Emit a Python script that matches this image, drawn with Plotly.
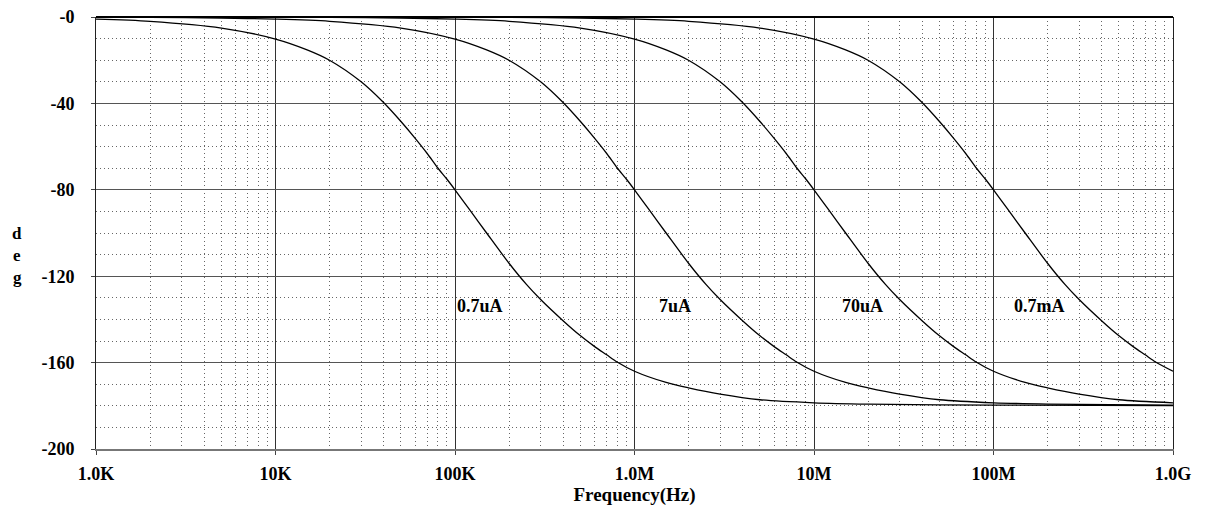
import plotly.graph_objects as go
import numpy as np

# ---- data (frequency in Hz, phase in degrees) ----
freq_07uA = [1e3, 2e3, 5e3, 1e4, 1.5e4, 2e4, 3e4, 4e4, 5e4, 6e4, 7e4, 8e4, 9e4,
             1e5, 1.2e5, 1.5e5, 2e5, 2.5e5, 3e5, 4e5, 5e5, 6e5, 7e5, 8e5,
             1e6, 1.5e6, 2e6, 3e6, 5e6, 1e7, 2e7, 1e8, 1e9]
phase_07uA = [-1.0, -2.0, -5.1, -10.2, -15.2, -20.0, -30.0, -39.6, -48.4, -56.2, -63.2, -69.8, -75.0,
              -80.0, -89.0, -100.0, -114.0, -123.8, -130.8, -140.6, -147.6, -152.6, -156.4, -159.7,
              -164.0, -169.2, -171.7, -174.6, -177.2, -178.6, -179.2, -179.7, -179.9]

freq_7uA = [1e3, 2e3, 5e3, 1e4, 2e4, 5e4, 1e5, 1.5e5, 2e5, 3e5, 4e5, 5e5, 6e5, 7e5, 8e5, 9e5,
            1e6, 1.2e6, 1.5e6, 2e6, 2.5e6, 3e6, 4e6, 5e6, 6e6, 7e6, 8e6,
            1e7, 1.5e7, 2e7, 3e7, 5e7, 1e8, 2e8, 1e9]
phase_7uA = [-0.1, -0.2, -0.5, -1.0, -2.0, -5.1, -10.2, -15.2, -20.0, -30.0, -39.6, -48.4, -56.2, -63.2, -69.8, -75.0,
             -80.0, -89.0, -100.0, -114.0, -123.8, -130.8, -140.6, -147.6, -152.6, -156.4, -159.7,
             -164.0, -169.2, -171.7, -174.6, -177.2, -178.6, -179.2, -179.7]

freq_70uA = [1e3, 1e4, 2e4, 5e4, 1e5, 2e5, 5e5, 1e6, 1.5e6, 2e6, 3e6, 4e6, 5e6, 6e6, 7e6, 8e6, 9e6,
             1e7, 1.2e7, 1.5e7, 2e7, 2.5e7, 3e7, 4e7, 5e7, 6e7, 7e7, 8e7,
             1e8, 1.5e8, 2e8, 3e8, 5e8, 1e9]
phase_70uA = [0.0, -0.1, -0.2, -0.5, -1.0, -2.0, -5.1, -10.2, -15.2, -20.0, -30.0, -39.6, -48.4, -56.2, -63.2, -69.8, -75.0,
              -80.0, -89.0, -100.0, -114.0, -123.8, -130.8, -140.6, -147.6, -152.6, -156.4, -159.7,
              -164.0, -169.2, -171.7, -174.6, -177.2, -178.6]

freq_07mA = [1e3, 1e5, 2e5, 5e5, 1e6, 2e6, 5e6, 1e7, 1.5e7, 2e7, 3e7, 4e7, 5e7, 6e7, 7e7, 8e7, 9e7,
             1e8, 1.2e8, 1.5e8, 2e8, 2.5e8, 3e8, 4e8, 5e8, 6e8, 7e8, 8e8, 1e9]
phase_07mA = [0.0, -0.1, -0.2, -0.5, -1.0, -2.0, -5.1, -10.2, -15.2, -20.0, -30.0, -39.6, -48.4, -56.2, -63.2, -69.8, -75.0,
              -80.0, -89.0, -100.0, -114.0, -123.8, -130.8, -140.6, -147.6, -152.6, -156.4, -159.7, -164.0]

series = [("0.7uA", freq_07uA, phase_07uA),
          ("7uA", freq_7uA, phase_7uA),
          ("70uA", freq_70uA, phase_70uA),
          ("0.7mA", freq_07mA, phase_07mA)]

x_tick_vals = [1e3, 1e4, 1e5, 1e6, 1e7, 1e8, 1e9]
x_tick_text = ["1.0K", "10K", "100K", "1.0M", "10M", "100M", "1.0G"]
y_tick_vals = [-200, -160, -120, -80, -40, 0]
y_tick_text = ["-200", "-160", "-120", "-80", "-40", "-0"]

# label positions (frequency, phase)
label_names = ["0.7uA", "7uA", "70uA", "0.7mA"]
label_freq = [1.0e5, 1.33e6, 1.39e7, 1.26e8]
label_phase = [-133.6, -133.6, -133.6, -133.6]

FONT = "Liberation Serif"

fig = go.Figure()
for name, f, p in series:
    fig.add_trace(go.Scatter(x=f, y=p, mode="lines", name=name,
                             line=dict(color="black", width=1.3, shape="spline", smoothing=0.8),
                             showlegend=False, hoverinfo="x+y"))

minor_x = [m * d for d in x_tick_vals[:-1] for m in range(2, 10)]

W, H = 1200, 498
fig.update_layout(
    width=W, height=H,
    margin=dict(l=88, r=35, t=9, b=57),
    paper_bgcolor="white", plot_bgcolor="white",
    font=dict(family=FONT, size=18, color="black", weight="bold"),
    xaxis=dict(
        type="log", range=[3, 9],
        tickmode="array", tickvals=x_tick_vals, ticktext=x_tick_text,
        ticks="outside", ticklen=4, tickcolor="#444", tickwidth=1,
        showgrid=True, gridcolor="#333", gridwidth=1,
        showline=True, linecolor="#777", linewidth=2, mirror=False,
        zeroline=False,
        tickfont=dict(family=FONT, size=18, color="black", weight="bold"),
        ticklabelstandoff=3,
        ticklabeloverflow="allow",
        title=dict(text="Frequency(Hz)", standoff=0,
                   font=dict(family=FONT, size=19, color="black", weight="bold")),
        minor=dict(tickmode="array", tickvals=minor_x, showgrid=True,
                   gridcolor="#666", gridwidth=1, griddash="1px,3px", ticks=""),
        automargin=False,
    ),
    yaxis=dict(
        range=[-200, 0],
        tickmode="array", tickvals=y_tick_vals, ticktext=y_tick_text,
        ticks="outside", ticklen=4, tickcolor="#444", tickwidth=1,
        showgrid=True, gridcolor="#555", gridwidth=1,
        showline=True, linecolor="#222", linewidth=1, mirror=True,
        zeroline=False,
        tickfont=dict(family=FONT, size=18, color="black", weight="bold"),
        ticklabelstandoff=13,
        ticklabeloverflow="allow",
        minor=dict(dtick=10, showgrid=True, gridcolor="#666", gridwidth=1,
                   griddash="1px,3px", ticks=""),
        automargin=False,
    ),
)

# top border (thicker black)
fig.add_shape(type="line", xref="paper", yref="paper", x0=0, x1=1, y0=1, y1=1,
              line=dict(color="black", width=2))

pw = W - 88 - 35
ph = H - 9 - 57
# vertical "d e g" axis label
for ch, yp in zip(["d", "e", "g"], [233, 255, 277]):
    fig.add_annotation(text=ch, xref="paper", yref="paper",
                       x=(17 - 96) / pw, y=(449 - yp) / ph,
                       xanchor="center", yanchor="middle", showarrow=False,
                       font=dict(family=FONT, size=17, color="black", weight="bold"))

for name, lf, lp in zip(label_names, label_freq, label_phase):
    fig.add_annotation(text=name, x=np.log10(lf), y=lp, xref="x", yref="y",
                       xanchor="left", yanchor="middle", showarrow=False,
                       font=dict(family=FONT, size=18, color="black", weight="bold"))

fig.write_html("out.html")
